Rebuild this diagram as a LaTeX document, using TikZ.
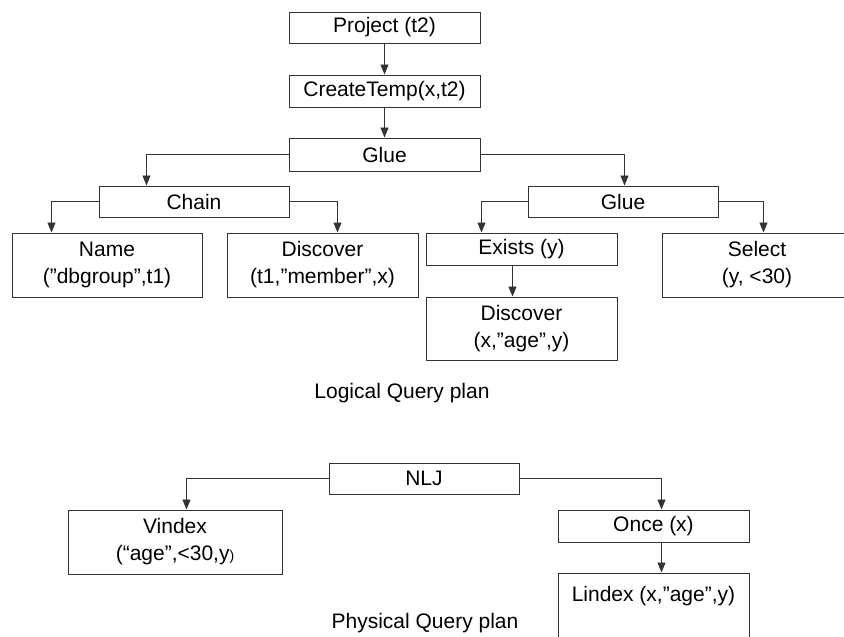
\documentclass[tikz,border=0pt]{standalone}
\usepackage{fontspec}
\setmainfont{Liberation Sans}
\usetikzlibrary{arrows.meta}

\tikzset{
  opbox/.style={draw=black!80, line width=1pt, rectangle, inner sep=0pt,
    align=center, font=\fontsize{21}{27}\selectfont},
  caption/.style={inner sep=0pt, font=\fontsize{21}{27}\selectfont},
  link/.style={draw=black!80, line width=0.9pt,
    -{Triangle[length=10pt,width=8pt]}}
}

\begin{document}
\begin{tikzpicture}[x=1pt,y=-1pt]
\useasboundingbox (0,0) rectangle (844,637);

% Logical query plan
\node[opbox, minimum width=191pt, minimum height=31pt] (proj)  at (384.5,27.5) {Project (t2)};
\node[opbox, minimum width=191pt, minimum height=32pt] (ctemp) at (384.5,91)   {CreateTemp(x,t2)};
\node[opbox, minimum width=191pt, minimum height=33pt] (glue)  at (384.5,154.5){Glue};
\node[opbox, minimum width=190pt, minimum height=31pt] (chain) at (194,201.5)  {Chain};
\node[opbox, minimum width=190pt, minimum height=31pt] (glueb) at (623,201.5)  {Glue};
\node[opbox, minimum width=190pt, minimum height=64pt] (name)  at (107,265)    {Name\\(”dbgroup”,t1)};
\node[opbox, minimum width=191pt, minimum height=64pt] (disca) at (322.5,265)  {Discover\\ (t1,”member”,x)};
\node[opbox, minimum width=191pt, minimum height=32pt] (exists) at (521.5,249) {Exists (y)};
\node[opbox, minimum width=191pt, minimum height=63pt] (discb) at (521.5,328.5){Discover\\(x,”age”,y)};
\node[opbox, minimum width=190pt, minimum height=64pt] (select) at (757,265)   {Select\\(y, <30)};
\node[caption] (logical) at (402,393) {Logical Query plan};

\draw[link] (proj.south) -- (ctemp.north);
\draw[link] (ctemp.south) -- (glue.north);
\draw[link] (glue.west) -| ([xshift=48pt]chain.north west);
\draw[link] (glue.east) -| ([xshift=97pt]glueb.north west);
\draw[link] (chain.west) -| ([xshift=40pt]name.north west);
\draw[link] (chain.east) -| ([xshift=111pt]disca.north west);
\draw[link] (glueb.west) -| ([xshift=56pt]exists.north west);
\draw[link] (glueb.east) -| ([xshift=102pt]select.north west);
\draw[link] ([xshift=87pt]exists.south west) -- ([xshift=87pt]discb.north west);

% Physical query plan
\node[opbox, minimum width=190pt, minimum height=31pt] (nlj)    at (424,478.5) {NLJ};
\node[opbox, minimum width=214pt, minimum height=64pt] (vindex) at (175,542)   {Vindex\\(“age”,<30,y{\fontsize{14}{14}\selectfont)}};
\node[opbox, minimum width=191pt, minimum height=32pt] (once)   at (653.5,526) {Once (x)};
\node[opbox, minimum width=191pt, minimum height=68pt] (lindex) at (653.5,607) {Lindex (x,”age”,y)\\\mbox{}};
\node[caption] (physical) at (425,623) {Physical Query plan};

\draw[link] (nlj.west) -| ([xshift=119pt]vindex.north west);
\draw[link] (nlj.east) -| ([xshift=104pt]once.north west);
\draw[link] ([xshift=104pt]once.south west) -- ([xshift=104pt]lindex.north west);
\end{tikzpicture}
\end{document}
